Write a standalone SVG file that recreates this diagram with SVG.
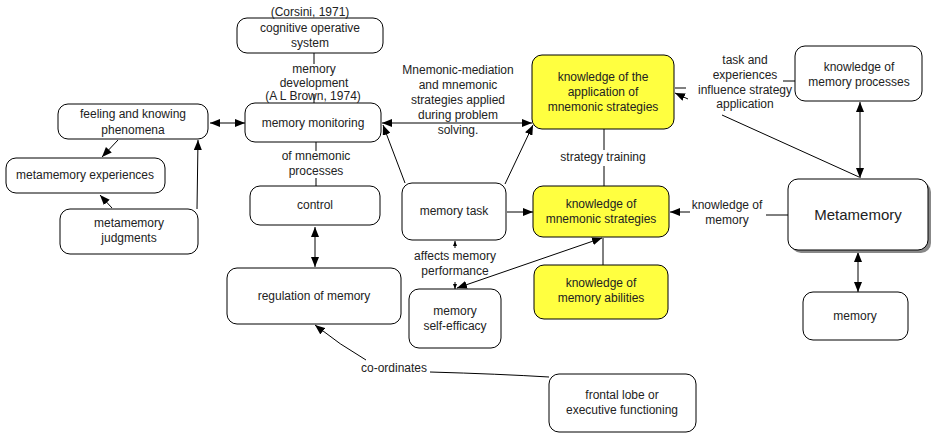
<svg xmlns="http://www.w3.org/2000/svg" width="938" height="438" viewBox="0 0 938 438">
<style>
.n rect{fill:#fff;stroke:#000;stroke-width:1}
.y rect{fill:#ffff40}
text{font-family:"Liberation Sans",Arial,sans-serif;font-size:12px;fill:#222;text-anchor:middle}
.c line,.c path{stroke:#000;stroke-width:1;fill:none}
</style>
<defs>
<marker id="a" viewBox="0 0 10 8" refX="10" refY="4" markerWidth="10" markerHeight="8" markerUnits="userSpaceOnUse" orient="auto-start-reverse"><path d="M0,0L10,4L0,8z" fill="#000"/></marker>
<marker id="s" viewBox="0 0 5 4" refX="5" refY="2" markerWidth="5" markerHeight="4" markerUnits="userSpaceOnUse" orient="auto"><path d="M0,0L5,2L0,4z" fill="#000"/></marker>
</defs>
<rect width="938" height="438" fill="#fff"/>
<g class="c">
<line x1="314" y1="53" x2="314" y2="64"/>
<line x1="314" y1="94" x2="314" y2="103"/>
<line x1="210" y1="123" x2="245" y2="123" marker-start="url(#a)" marker-end="url(#a)"/>
<line x1="118" y1="140" x2="102" y2="157" marker-end="url(#a)"/>
<line x1="112" y1="208" x2="100" y2="195" marker-end="url(#a)"/>
<line x1="197" y1="209" x2="198" y2="140" marker-end="url(#a)"/>
<line x1="316" y1="142" x2="316" y2="151"/>
<line x1="316" y1="178" x2="316" y2="186"/>
<line x1="315" y1="227" x2="315" y2="267" marker-start="url(#a)" marker-end="url(#a)"/>
<line x1="382" y1="123" x2="532" y2="123" marker-start="url(#a)" marker-end="url(#a)"/>
<line x1="405" y1="183" x2="383" y2="125" marker-end="url(#a)"/>
<line x1="505" y1="184" x2="533" y2="125" marker-end="url(#a)"/>
<line x1="507" y1="212" x2="533" y2="212" marker-end="url(#a)"/>
<line x1="455" y1="248" x2="455" y2="241" marker-end="url(#s)"/>
<line x1="455" y1="282" x2="455" y2="289" marker-end="url(#s)"/>
<line x1="602" y1="238" x2="457" y2="288" marker-start="url(#a)" marker-end="url(#a)"/>
<line x1="604" y1="129" x2="604" y2="150"/>
<line x1="604" y1="166" x2="604" y2="186"/>
<line x1="603" y1="238" x2="603" y2="265"/>
<line x1="788" y1="215" x2="766" y2="215"/>
<line x1="690" y1="212" x2="670" y2="212" marker-end="url(#a)"/>
<line x1="795" y1="81" x2="783" y2="81"/>
<line x1="686" y1="88" x2="675" y2="88"/>
<line x1="859" y1="177" x2="722" y2="115"/>
<line x1="688" y1="99" x2="675" y2="93" marker-end="url(#a)"/>
<line x1="860" y1="102" x2="860" y2="178" marker-start="url(#a)" marker-end="url(#a)"/>
<line x1="858" y1="252" x2="858" y2="292" marker-start="url(#a)" marker-end="url(#a)"/>
<path d="M549,377 Q500,374 430,372"/>
<path d="M366,360 Q340,345 315,325" marker-end="url(#a)"/>
</g>
<g id="cognitive" class="n"><rect x="237" y="18" width="146" height="35" rx="10"/><text x="310" y="16">(Corsini, 1971)</text><text x="310" y="32">cognitive operative</text><text x="310" y="47">system</text></g>
<g id="monitoring" class="n"><rect x="245" y="103" width="136" height="39" rx="10"/><text x="313" y="100">(A L Brown, 1974)</text><text x="313" y="127">memory monitoring</text></g>
<g id="feeling" class="n"><rect x="58" y="104" width="150" height="35" rx="10"/><text x="133" y="118">feeling and knowing</text><text x="133" y="134">phenomena</text></g>
<g id="experiences" class="n"><rect x="6" y="158" width="159" height="35" rx="10"/><text x="85" y="179">metamemory experiences</text></g>
<g id="judgments" class="n"><rect x="60" y="209" width="138" height="45" rx="10"/><text x="129" y="227">metamemory</text><text x="129" y="242">judgments</text></g>
<g id="control" class="n"><rect x="250" y="186" width="130" height="39" rx="10"/><text x="315" y="209">control</text></g>
<g id="regulation" class="n"><rect x="227" y="268" width="174" height="56" rx="10"/><text x="314" y="300">regulation of memory</text></g>
<g id="task" class="n"><rect x="402" y="183" width="104" height="57" rx="10"/><text x="454" y="215">memory task</text></g>
<g id="selfefficacy" class="n"><rect x="409" y="289" width="92" height="59" rx="10"/><text x="455" y="315">memory</text><text x="455" y="330">self-efficacy</text></g>
<g id="application" class="n y"><rect x="532" y="55" width="142" height="74" rx="10"/><text x="603" y="81">knowledge of the</text><text x="603" y="96">application of</text><text x="603" y="111">mnemonic strategies</text></g>
<g id="strategies" class="n y"><rect x="533" y="186" width="136" height="51" rx="10"/><text x="601" y="208">knowledge of</text><text x="601" y="223">mnemonic strategies</text></g>
<g id="abilities" class="n y"><rect x="534" y="265" width="134" height="54" rx="10"/><text x="601" y="287">knowledge of</text><text x="601" y="302">memory abilities</text></g>
<g id="processes" class="n"><rect x="795" y="46" width="127" height="55" rx="10"/><text x="859" y="71">knowledge of</text><text x="859" y="86">memory processes</text></g>
<g id="metamemory" class="n"><rect x="791" y="182" width="140" height="71" rx="10" style="fill:#888;stroke:none"/><rect x="788" y="179" width="140" height="71" rx="10"/><text x="858" y="220" style="font-size:15px">Metamemory</text></g>
<g id="memory" class="n"><rect x="803" y="292" width="105" height="48" rx="10"/><text x="855" y="320">memory</text></g>
<g id="frontal" class="n"><rect x="549" y="374" width="147" height="58" rx="10"/><text x="622" y="399">frontal lobe or</text><text x="622" y="414">executive functioning</text></g>
<g id="labels">
<text x="314" y="73">memory</text><text x="314" y="87">development</text>
<text x="316" y="160">of mnemonic</text><text x="316" y="175">processes</text>
<text x="458" y="74">Mnemonic-mediation</text><text x="458" y="89">and mnemonic</text><text x="458" y="104">strategies applied</text><text x="458" y="119">during problem</text><text x="458" y="134">solving.</text>
<text x="603" y="161">strategy training</text>
<text x="455" y="260">affects memory</text><text x="455" y="275">performance</text>
<text x="745" y="64">task and</text><text x="745" y="79">experiences</text><text x="745" y="94">influence strategy</text><text x="745" y="108">application</text>
<text x="727" y="209">knowledge of</text><text x="727" y="224">memory</text>
<text x="394" y="372">co-ordinates</text>
</g>
</svg>
